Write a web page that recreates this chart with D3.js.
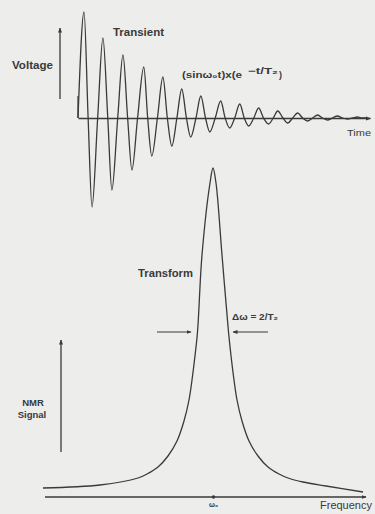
<!DOCTYPE html>
<html>
<head>
<meta charset="utf-8">
<script src="https://cdn.jsdelivr.net/npm/d3@7"></script>
<style>
  html, body { margin: 0; padding: 0; background: #ededeb; }
  svg { display: block; }
  text { font-family: "Liberation Sans", Arial, sans-serif; fill: #3a3a3a; }
</style>
</head>
<body>
<script>
// Transient (free induction decay): time in cycles, voltage in arbitrary units
// start, crests, zero crossings and troughs
const fidTime = [
  0, 0.31, 0.52, 0.72, 1.01, 1.28, 1.53, 1.74, 2.04, 2.31, 2.55, 2.77,
  3.06, 3.38, 3.58, 3.79, 4.08, 4.36, 4.59, 4.82, 5.08, 5.33, 5.57, 5.79,
  6.06, 6.31, 6.55, 6.77, 7.05, 7.33, 7.56, 7.79, 8.05, 8.31, 8.54, 8.77,
  9.03, 9.28, 9.53, 9.79, 10.03, 10.26, 10.53, 10.77, 11.03, 11.28, 11.54, 11.79,
  12.05, 12.31, 12.56, 12.82, 13.07, 13.33, 13.58, 13.85, 14.1, 14.36, 14.6, 14.8
];
const fidVolt = [
  0, 106, 0, -89, 0, 80, 0, -72, 0, 63, 0, -52,
  0, 51, 0, -38, 0, 41, 0, -28, 0, 29, 0, -19,
  0, 22, 0, -14, 0, 17, 0, -10, 0, 14, 0, -8,
  0, 10, 0, -6, 0, 7, 0, -5, 0, 5, 0, -3,
  0, 3, 0, -2, 0, 2, 0, -1, 0, 1, 0, 0
];

// Transform (Lorentzian line): offset from w0 and NMR signal
const freqOffset = [-170, -113, -75, -66, -55, -45, -36, -29, -24, -21, -18.5, -15.5, -11, -3, 0,
  3, 9, 15.5, 18.5, 21, 24, 29, 36, 45, 55, 66, 75, 90, 113, 150];
const nmrSignal = [9, 12, 19, 23, 30, 41, 56, 76, 97, 117, 137, 165, 242, 314, 329,
  314, 242, 165, 137, 117, 97, 76, 56, 41, 30, 23, 19, 15, 11, 5];

const halfWidth = [-16, 16];   // where the delta-omega arrows point
const freqTicks = [0];
const freqTickLabels = ["ω₀"];

const W = 375, H = 514;
const ink = "#3a3a3a";

const svg = d3.select("body").append("svg")
  .attr("width", W)
  .attr("height", H);

// arrow head marker
const defs = svg.append("defs");
defs.append("marker")
  .attr("id", "head")
  .attr("viewBox", "0 0 10 10")
  .attr("refX", 9).attr("refY", 5)
  .attr("markerWidth", 5).attr("markerHeight", 5)
  .attr("markerUnits", "userSpaceOnUse")
  .attr("orient", "auto")
  .append("path")
  .attr("d", "M0,1L10,5L0,9Z")
  .attr("fill", ink);

// ---------- top: transient ----------
const x = d3.scaleLinear().domain([0, 15]).range([78, 370]);
const y = d3.scaleLinear().domain([-100, 110]).range([218, 8]);

const timeAxis = svg.append("g")
  .attr("transform", `translate(0,${y(0)})`)
  .call(d3.axisBottom(x).tickValues([]).tickSizeOuter(0));
timeAxis.select(".domain")
  .attr("stroke", ink).attr("stroke-width", 1.3)
  .attr("marker-end", "url(#head)");

// short stub at the origin
svg.append("line")
  .attr("x1", x(0)).attr("x2", x(0))
  .attr("y1", y(0)).attr("y2", y(22))
  .attr("stroke", ink).attr("stroke-width", 1.2);

const fid = fidTime.map((t, i) => [t, fidVolt[i]]);
svg.append("path")
  .datum(fid)
  .attr("fill", "none")
  .attr("stroke", ink)
  .attr("stroke-width", 1.3)
  .attr("d", d3.line().x(d => x(d[0])).y(d => y(d[1])).curve(d3.curveMonotoneX));

// voltage arrow
svg.append("line")
  .attr("x1", 60).attr("x2", 60)
  .attr("y1", 99).attr("y2", 28)
  .attr("stroke", ink).attr("stroke-width", 1.3)
  .attr("marker-end", "url(#head)");

svg.append("text").attr("x", 12).attr("y", 69)
  .attr("font-size", 10).attr("font-weight", 700)
  .attr("textLength", 41).attr("lengthAdjust", "spacingAndGlyphs")
  .text("Voltage");
svg.append("text").attr("x", 113).attr("y", 36)
  .attr("font-size", 10).attr("font-weight", 700)
  .attr("textLength", 51).attr("lengthAdjust", "spacingAndGlyphs")
  .text("Transient");
svg.append("text").attr("x", 347).attr("y", 136)
  .attr("font-size", 9.5)
  .attr("textLength", 24).attr("lengthAdjust", "spacingAndGlyphs")
  .text("Time");

const formula = svg.append("text").attr("x", 182).attr("y", 78)
  .attr("font-size", 9).attr("font-weight", 700);
formula.append("tspan").attr("textLength", 60).attr("lengthAdjust", "spacingAndGlyphs")
  .text("(sinω₀t)x(e");
formula.append("tspan").attr("dy", -4).attr("dx", 6)
  .attr("textLength", 30).attr("lengthAdjust", "spacingAndGlyphs")
  .text("−t/T₂");
formula.append("tspan").attr("dy", 4).attr("dx", 1).text(")");

// ---------- bottom: transform ----------
const fx = d3.scaleLinear().domain([-170, 160]).range([43, 373]);
const fy = d3.scaleLinear().domain([0, 330]).range([497, 167]);

const freqAxis = svg.append("g")
  .attr("transform", `translate(0,${fy(0)})`)
  .call(d3.axisBottom(fx)
    .tickValues(freqTicks)
    .tickFormat((d, i) => freqTickLabels[i])
    .tickSize(0).tickSizeOuter(0).tickPadding(5));
freqAxis.select(".domain")
  .attr("d", `M${fx(-168)},0H${fx(153)}`)
  .attr("stroke", ink).attr("stroke-width", 1.3)
  .attr("marker-end", "url(#head)");
freqAxis.selectAll(".tick text")
  .attr("font-size", 7).attr("font-weight", 700).attr("fill", ink);
freqAxis.selectAll(".tick").append("circle")
  .attr("r", 1.8).attr("fill", ink);

const line = freqOffset.map((f, i) => [f, nmrSignal[i]]);
svg.append("path")
  .datum(line)
  .attr("fill", "none")
  .attr("stroke", ink)
  .attr("stroke-width", 1.3)
  .attr("d", d3.line().x(d => fx(d[0])).y(d => fy(d[1])).curve(d3.curveCatmullRom.alpha(0.5)));

// half width arrows
const halfY = fy(165);
svg.append("line")
  .attr("x1", fx(halfWidth[0]) - 40).attr("x2", fx(halfWidth[0]) - 6)
  .attr("y1", halfY).attr("y2", halfY)
  .attr("stroke", ink).attr("stroke-width", 1.2)
  .attr("marker-end", "url(#head)");
svg.append("line")
  .attr("x1", fx(halfWidth[1]) + 39).attr("x2", fx(halfWidth[1]) + 4)
  .attr("y1", halfY).attr("y2", halfY)
  .attr("stroke", ink).attr("stroke-width", 1.2)
  .attr("marker-end", "url(#head)");

// NMR signal arrow
svg.append("line")
  .attr("x1", 61).attr("x2", 61)
  .attr("y1", 452).attr("y2", 340)
  .attr("stroke", ink).attr("stroke-width", 1.3)
  .attr("marker-end", "url(#head)");

svg.append("text").attr("x", 138).attr("y", 277)
  .attr("font-size", 10).attr("font-weight", 700)
  .attr("textLength", 55).attr("lengthAdjust", "spacingAndGlyphs")
  .text("Transform");
svg.append("text").attr("x", 232).attr("y", 320)
  .attr("font-size", 9).attr("font-weight", 700)
  .attr("textLength", 46).attr("lengthAdjust", "spacingAndGlyphs")
  .text("Δω = 2/T₂");
svg.append("text").attr("x", 33).attr("y", 406)
  .attr("font-size", 9.5).attr("font-weight", 700)
  .attr("text-anchor", "middle")
  .text("NMR");
svg.append("text").attr("x", 32).attr("y", 418)
  .attr("font-size", 9.5).attr("font-weight", 700)
  .attr("text-anchor", "middle")
  .text("Signal");
svg.append("text").attr("x", 320).attr("y", 509)
  .attr("font-size", 11)
  .text("Frequency");
</script>
</body>
</html>
